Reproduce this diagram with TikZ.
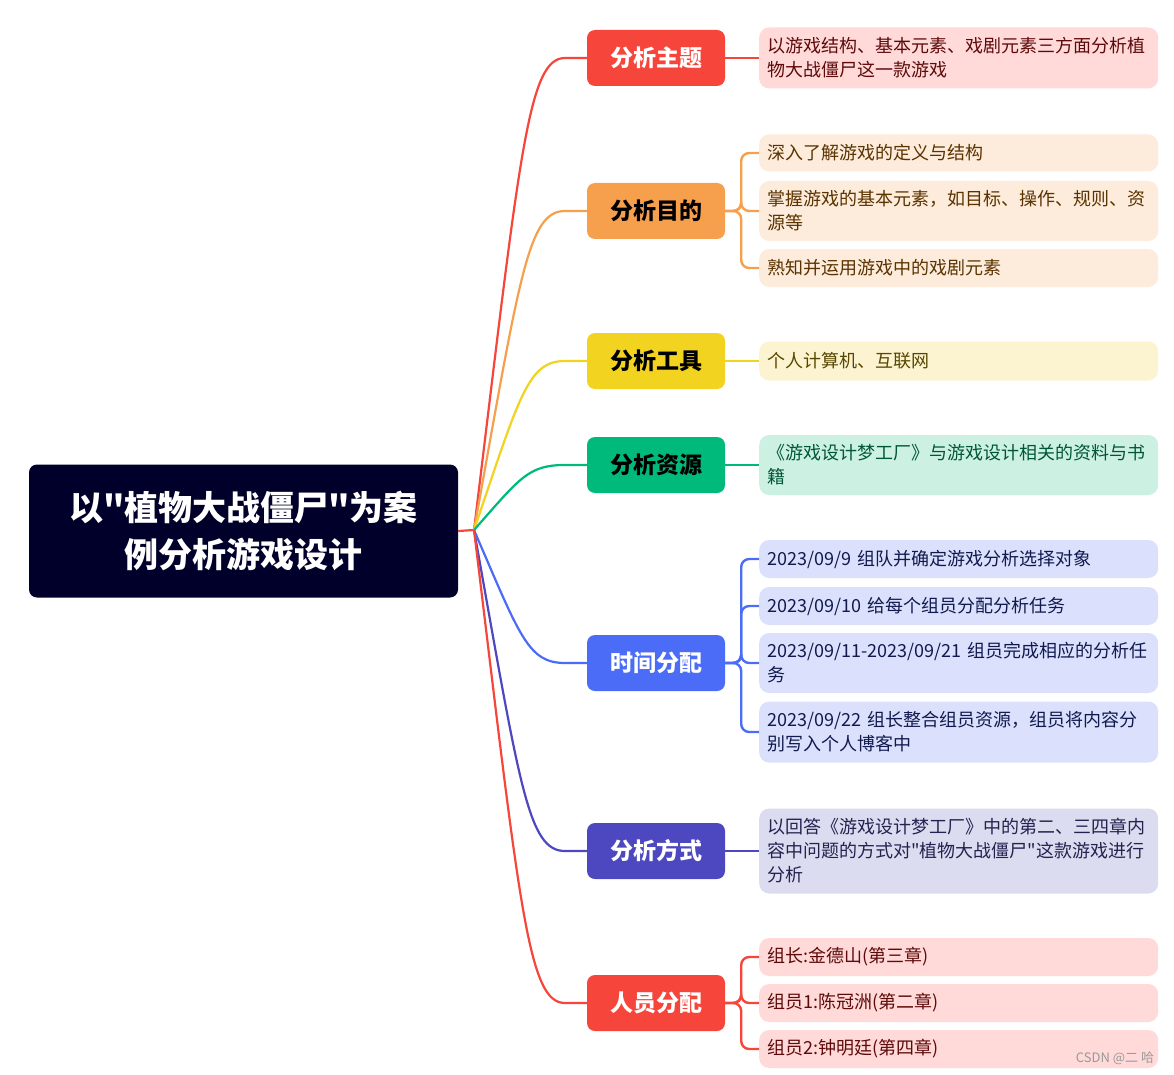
\documentclass[tikz,border=0pt]{standalone}
\usepackage{fontspec}
\setmainfont{Noto Sans CJK SC}[Ligatures=TeXOff]
\definecolor{cRoot}{HTML}{00002A}
\definecolor{cRed}{HTML}{F6463B}
\definecolor{cOrange}{HTML}{F6A04D}
\definecolor{cYellow}{HTML}{F1D320}
\definecolor{cGreen}{HTML}{00BA7B}
\definecolor{cBlue}{HTML}{4A6CF7}
\definecolor{cPurple}{HTML}{4D48C0}
\definecolor{lRed}{HTML}{FFDAD9}
\definecolor{lOrange}{HTML}{FDEBDB}
\definecolor{lYellow}{HTML}{FCF4D0}
\definecolor{lGreen}{HTML}{CCF1E3}
\definecolor{lBlue}{HTML}{DBE1FD}
\definecolor{lPurple}{HTML}{DCDCF0}
\definecolor{tRed}{HTML}{5E0A0A}
\definecolor{tOrange}{HTML}{5A3300}
\definecolor{tYellow}{HTML}{574700}
\definecolor{tGreen}{HTML}{00563A}
\definecolor{tBlue}{HTML}{111A4E}
\definecolor{tPurple}{HTML}{24224F}
\tikzset{
  rootbox/.style={fill=cRoot, text=white, rounded corners=8pt, minimum width=429pt, minimum height=133pt,
    align=center, font=\fontsize{34}{47}\selectfont\bfseries, inner sep=0pt},
  branchbox/.style={rounded corners=8pt, minimum width=138pt, minimum height=56pt, inner sep=0pt,
    font=\fontsize{23}{28}\selectfont\bfseries},
  leafbox/.style={anchor=west, rounded corners=10pt, minimum width=399pt, text width=383pt,
    inner xsep=8pt, inner ysep=0pt, align=left, font=\fontsize{18}{24}\selectfont},
  conn/.style={line width=2.2pt},
  lconn/.style={line width=2.4pt, rounded corners=8pt},
}
\begin{document}
\begin{tikzpicture}[x=1pt,y=-1pt]
\useasboundingbox (0,0) rectangle (1174,1075);
\fill[white] (0,0) rectangle (1174,1075);

% root
\node[rootbox] (root) at (243.5,531) {以"植物大战僵尸"为案\\例分析游戏设计};
\coordinate (J) at (474,530);

% branches
\node[branchbox, fill=cRed, text=white] (b1) at (656,58) {分析主题};
\node[branchbox, fill=cOrange, text=black] (b2) at (656,211) {分析目的};
\node[branchbox, fill=cYellow, text=black] (b3) at (656,361) {分析工具};
\node[branchbox, fill=cGreen, text=black] (b4) at (656,465) {分析资源};
\node[branchbox, fill=cBlue, text=white] (b5) at (656,663) {时间分配};
\node[branchbox, fill=cPurple, text=white] (b6) at (656,851) {分析方式};
\node[branchbox, fill=cRed, text=white] (b7) at (656,1003) {人员分配};

% root connectors
\draw[conn, cRed] (root.east) -- (J);
\foreach \n/\c/\y in {b1/cRed/58, b2/cOrange/211, b3/cYellow/361, b4/cGreen/465, b5/cBlue/663, b6/cPurple/851, b7/cRed/1003}
  \draw[conn, \c] (J) .. controls (520,{\y+0.2*(530-\y)}) and (528,\y) .. (565,\y) -- (\n.west);

% leaves
\node[leafbox, fill=lRed, text=tRed, minimum height=61pt] (l1) at (759,58) {以游戏结构、基本元素、戏剧元素三方面分析植\\物大战僵尸这一款游戏};

\node[leafbox, fill=lOrange, text=tOrange, minimum height=37pt] (l2a) at (759,153) {深入了解游戏的定义与结构};
\node[leafbox, fill=lOrange, text=tOrange, minimum height=60pt] (l2b) at (759,211) {掌握游戏的基本元素，如目标、操作、规则、资\\源等};
\node[leafbox, fill=lOrange, text=tOrange, minimum height=38pt] (l2c) at (759,268) {熟知并运用游戏中的戏剧元素};

\node[leafbox, fill=lYellow, text=tYellow, minimum height=39pt] (l3) at (759,361) {个人计算机、互联网};

\node[leafbox, fill=lGreen, text=tGreen, minimum height=60pt] (l4) at (759,465) {《游戏设计梦工厂》与游戏设计相关的资料与书\\籍};

\node[leafbox, fill=lBlue, text=tBlue, minimum height=38pt] (l5a) at (759,559) {2023/09/9 组队并确定游戏分析选择对象};
\node[leafbox, fill=lBlue, text=tBlue, minimum height=38pt] (l5b) at (759,606) {2023/09/10 给每个组员分配分析任务};
\node[leafbox, fill=lBlue, text=tBlue, minimum height=60pt] (l5c) at (759,663) {2023/09/11-2023/09/21 组员完成相应的分析任\\务};
\node[leafbox, fill=lBlue, text=tBlue, minimum height=61pt] (l5d) at (759,732) {2023/09/22 组长整合组员资源，组员将内容分\\别写入个人博客中};

\node[leafbox, fill=lPurple, text=tPurple, minimum height=85pt] (l6) at (759,851) {以回答《游戏设计梦工厂》中的第二、三四章内\\容中问题的方式对"植物大战僵尸"这款游戏进行\\分析};

\node[leafbox, fill=lRed, text=tRed, minimum height=38pt] (l7a) at (759,957) {组长:金德山(第三章)};
\node[leafbox, fill=lRed, text=tRed, minimum height=38pt] (l7b) at (759,1003) {组员1:陈冠洲(第二章)};
\node[leafbox, fill=lRed, text=tRed, minimum height=38pt] (l7c) at (759,1049) {组员2:钟明廷(第四章)};

% leaf connectors
\draw[lconn, cRed] (b1.east) -- (l1.west);
\foreach \l in {l2a,l2b,l2c} \draw[lconn, cOrange] (b2.east) -- ++(16,0) |- (\l.west);
\draw[lconn, cYellow] (b3.east) -- (l3.west);
\draw[lconn, cGreen] (b4.east) -- (l4.west);
\foreach \l in {l5a,l5b,l5c,l5d} \draw[lconn, cBlue] (b5.east) -- ++(16,0) |- (\l.west);
\draw[lconn, cPurple] (b6.east) -- (l6.west);
\foreach \l in {l7a,l7b,l7c} \draw[lconn, cRed] (b7.east) -- ++(16,0) |- (\l.west);

% watermark
\node[font=\fontsize{13}{15}\selectfont, text=gray!80] (wm) at (1115,1058) {CSDN @二 哈};
\end{tikzpicture}
\end{document}
